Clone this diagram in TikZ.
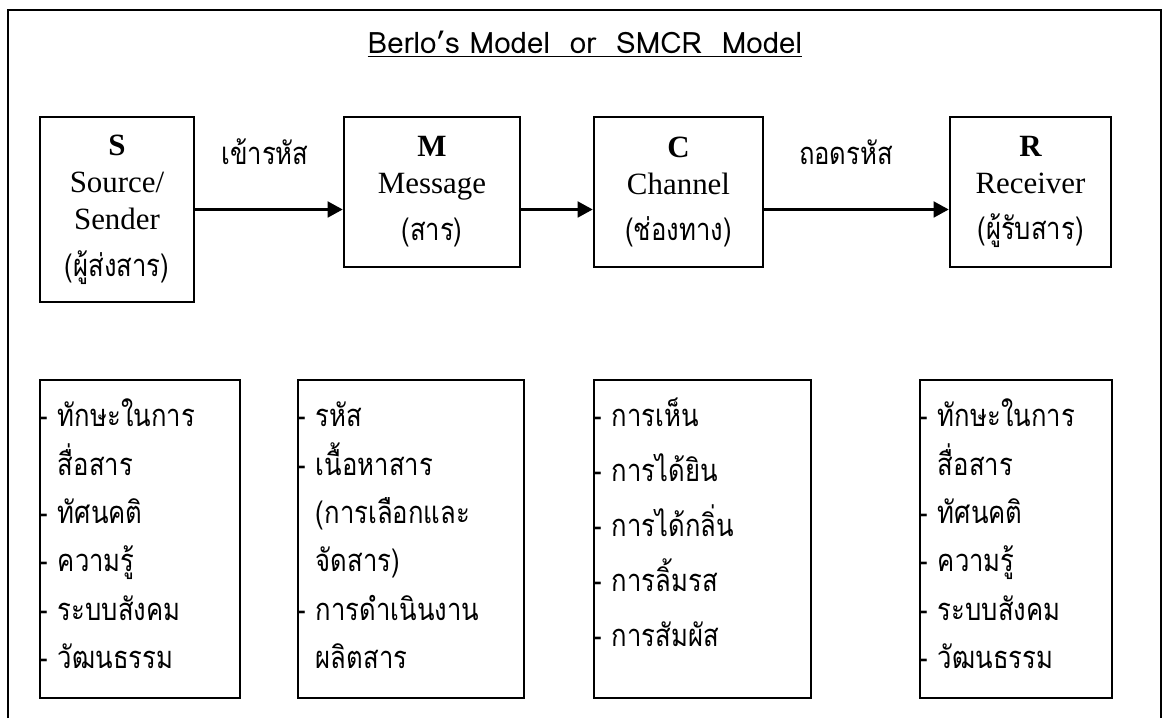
\documentclass[tikz,border=0pt]{standalone}
\usepackage{fontspec}
\setmainfont{Liberation Serif}
\newfontfamily\thaifont[Script=Thai, FakeStretch=0.83]{Loma}
\newfontfamily\headfont{Loma}
\usetikzlibrary{arrows.meta}

\begin{document}
\begin{tikzpicture}[
  stage/.style={rectangle, draw=black, line width=1.7pt, align=center, inner sep=0pt, font=\fontsize{22}{26.3}\selectfont},
  itembox/.style={rectangle, draw=black, line width=1.7pt, inner sep=0pt, minimum height=7.95cm},
  items/.style={anchor=base west, inner sep=0pt, align=left, text width=4.6cm, font=\thaifont\fontsize{22}{34.4}\selectfont},
  flow/.style={-{Triangle[length=3.8mm, width=3.9mm]}, line width=2.2pt},
  code/.style={anchor=base, inner sep=0pt, font=\thaifont\fontsize{22}{26}\selectfont}
]
\useasboundingbox (0,0) rectangle (29.075,17.95);
\draw[line width=1.2pt] (0.2,0) -- (0.2,17.7) -- (29.025,17.7) -- (29.025,0);
\node[anchor=base, inner sep=0pt, font=\headfont\fontsize{21}{25}\selectfont] (heading) at (14.625,16.6) {\underline{Berlo’s Model\ \ or\ \ SMCR\ \ Model}};
% S M C R
\node[stage, minimum width=3.85cm, minimum height=4.625cm] (src) at (2.925,12.7125) {{\bfseries S}\\Source/\\Sender\\[7pt]{\thaifont\fontsize{22}{26.3}\selectfont(ผู้ส่งสาร)}};
\node[stage, minimum width=4.4cm, minimum height=3.75cm] (msg) at (10.8,13.15) {{\bfseries M}\\Message\\[7pt]{\thaifont\fontsize{22}{26.3}\selectfont(สาร)}};
\node[stage, minimum width=4.225cm, minimum height=3.75cm] (chn) at (16.9625,13.15) {{\bfseries C}\\Channel\\[7pt]{\thaifont\fontsize{22}{26.3}\selectfont(ช่องทาง)}};
\node[stage, minimum width=4.025cm, minimum height=3.75cm] (rcv) at (25.7625,13.15) {{\bfseries R}\\Receiver\\[7pt]{\thaifont\fontsize{22}{26.3}\selectfont(ผู้รับสาร)}};
\draw[flow] (src.east) -- (src.east -| msg.west);
\draw[flow] (msg.east |- src.east) -- (chn.west |- src.east);
\draw[flow] (chn.east |- src.east) -- (rcv.west |- src.east);
\node[code] (encode) at (6.625,13.825) {เข้ารหัส};
\node[code] (decode) at (21.15,13.825) {ถอดรหัส};
% bottom lists
\node[itembox, minimum width=5cm] (srcbox) at (3.5,4.475) {};
\node[itembox, minimum width=5.65cm] (msgbox) at (10.275,4.475) {};
\node[itembox, minimum width=5.425cm] (chnbox) at (17.5625,4.475) {};
\node[itembox, minimum width=4.8cm] (rcvbox) at (25.4,4.475) {};
\node[items] (srclist) at ([yshift=-1.2cm]srcbox.north west) {- ทักษะในการ\\\phantom{- }สื่อสาร\\- ทัศนคติ\\- ความรู้\\- ระบบสังคม\\- วัฒนธรรม};
\node[items, text width=5.3cm] (msglist) at ([yshift=-1.2cm]msgbox.north west) {- รหัส\\- เนื้อหาสาร\\\phantom{- }(การเลือกและ\\\phantom{- }จัดสาร)\\- การดำเนินงาน\\\phantom{- }ผลิตสาร};
\node[items, font=\thaifont\fontsize{22}{39.1}\selectfont] (chnlist) at ([yshift=-1.2cm]chnbox.north west) {- การเห็น\\- การได้ยิน\\- การได้กลิ่น\\- การลิ้มรส\\- การสัมผัส};
\node[items] (rcvlist) at ([yshift=-1.2cm]rcvbox.north west) {- ทักษะในการ\\\phantom{- }สื่อสาร\\- ทัศนคติ\\- ความรู้\\- ระบบสังคม\\- วัฒนธรรม};
\end{tikzpicture}
\end{document}
